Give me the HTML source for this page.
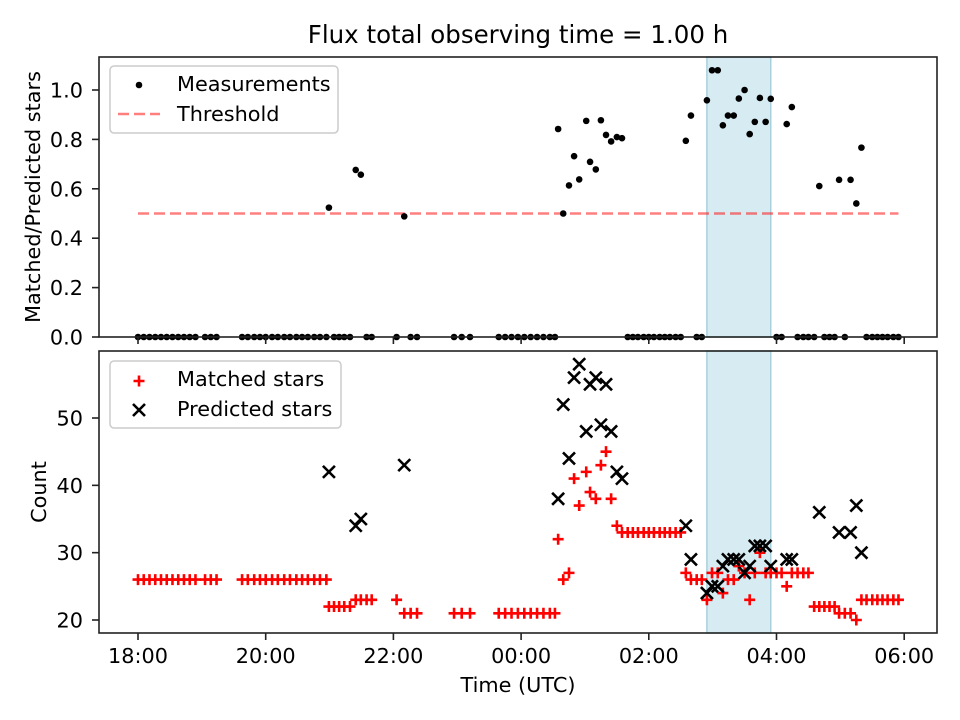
<!DOCTYPE html>
<html><head><meta charset="utf-8"><style>
html,body{margin:0;padding:0;background:#fff;width:960px;height:720px;overflow:hidden}
svg text{font-family:"DejaVu Sans","Liberation Sans",sans-serif;fill:#000}
</style></head><body>
<svg id="chart" width="960" height="720" viewBox="0 0 960 720" xmlns="http://www.w3.org/2000/svg">
<text x="518" y="43" text-anchor="middle" font-size="24.5">Flux total observing time = 1.00 h</text>
<g id="topPanel"></g>
<g id="botPanel"></g>
<text x="518" y="692" text-anchor="middle" font-size="20.8">Time (UTC)</text>
<text transform="translate(40,197) rotate(-90)" text-anchor="middle" font-size="20.8">Matched/Predicted stars</text>
<text transform="translate(46,492) rotate(-90)" text-anchor="middle" font-size="20.8">Count</text>
</svg>
<script>
// hours since 18:00 UTC
const times = [0,0.09,0.18,0.27,0.36,0.45,0.54,0.63,0.72,0.81,0.9,
1.05,1.14,1.23,
1.63,1.72,1.82,1.91,2.0,2.1,2.19,2.29,2.38,2.48,2.57,2.66,2.76,2.85,2.95,
2.99,3.07,3.15,3.23,3.32,3.41,3.49,3.58,3.66,
4.05,4.17,4.27,4.37,
4.95,5.07,5.2,
5.65,5.75,5.85,5.95,6.05,6.15,6.25,6.35,6.45,6.53,
6.58,6.66,6.75,6.83,6.91,7.02,7.08,7.17,7.25,7.33,7.41,7.5,
7.58,7.67,7.75,7.83,7.92,8.0,8.08,8.17,8.25,8.33,8.42,8.5,
8.58,8.66,8.75,8.83,8.91,8.99,9.08,9.16,9.24,9.33,9.41,9.5,9.58,9.66,9.74,9.83,9.91,
10.0,10.08,10.16,10.24,10.33,10.42,10.5,
10.59,10.67,10.75,10.83,10.91,10.98,11.07,11.16,11.25,11.33,
11.41,11.5,11.58,11.66,11.74,11.83,11.91];
const matched = [26,26,26,26,26,26,26,26,26,26,26,
26,26,26,
26,26,26,26,26,26,26,26,26,26,26,26,26,26,26,
22,22,22,22,22,23,23,23,23,
23,21,21,21,
21,21,21,
21,21,21,21,21,21,21,21,21,21,
32,26,27,41,37,42,39,38,43,45,38,34,
33,33,33,33,33,33,33,33,33,33,33,33,
27,26,26,26,23,27,27,24,26,26,28,27,23,27,30,27,27,
27,27,25,27,27,27,27,
22,22,22,22,22,21,21,21,20,23,
23,23,23,23,23,23,23];
const predicted = [null,null,null,null,null,null,null,null,null,null,null,
null,null,null,
null,null,null,null,null,null,null,null,null,null,null,null,null,null,null,
42,null,null,null,null,34,35,null,null,
null,43,null,null,
null,null,null,
null,null,null,null,null,null,null,null,null,null,
38,52,44,56,58,48,55,56,49,55,48,42,
41,null,null,null,null,null,null,null,null,null,null,null,
34,29,null,null,24,25,25,28,29,29,29,27,28,31,31,31,28,
null,null,29,29,null,null,null,
null,36,null,null,null,33,null,33,37,30,
null,null,null,null,null,null,null];
const xTickHours = [0,2,4,6,8,10,12];
const xTickLabels = ["18:00","20:00","22:00","00:00","02:00","04:00","06:00"];
const topTicks = [0,0.2,0.4,0.6,0.8,1.0];
const botTicks = [20,30,40,50];
const threshold = 0.5;
const spanStart = 8.91, spanEnd = 9.91;

const NS="http://www.w3.org/2000/svg";
function mk(parent,tag,attrs){const e=document.createElementNS(NS,tag);for(const k in attrs)e.setAttribute(k,attrs[k]);parent.appendChild(e);return e;}
const X0=99,X1=937;
const xs=h=>138+h*63.85;
const yTop=v=>337-v*247;
const yBot=v=>620-(v-20)*6.733;

function frame(g,yt,yb,name){
  const s=mk(g,'rect',{x:X0,y:yt,width:X1-X0,height:yb-yt,fill:'none',stroke:'#222','stroke-width':1.6});
  
  
}
function span(g,yt,yb){
  const r=mk(g,'rect',{x:xs(spanStart),y:yt,width:xs(spanEnd)-xs(spanStart),height:yb-yt,fill:'#add8e6','fill-opacity':0.5,stroke:'#a8d0dc','stroke-width':1.5});
  
  
}
function xticks(g,yb,labels){
  xTickHours.forEach((h,i)=>{
    const t=mk(g,'line',{x1:xs(h),x2:xs(h),y1:yb,y2:yb+7,stroke:'#222','stroke-width':1.6});
    
    
    if(labels){
      const tx=mk(g,'text',{x:xs(h),y:yb+30,'text-anchor':'middle','font-size':20.8});
      tx.textContent=xTickLabels[i];
      
      
    }
  });
}
function yticks(g,ticks,f,fmt){
  ticks.forEach(v=>{
    const t=mk(g,'line',{x1:X0-7,x2:X0,y1:f(v),y2:f(v),stroke:'#222','stroke-width':1.6});
    
    
    const tx=mk(g,'text',{x:X0-16,y:f(v)+7.5,'text-anchor':'end','font-size':20.8});
    tx.textContent=fmt(v);
    
    
  });
}
// ---- top panel
const topG=document.getElementById('topPanel');
span(topG,57,337);
const th=mk(topG,'line',{x1:xs(times[0]),x2:xs(times[times.length-1]),y1:yTop(threshold),y2:yTop(threshold),stroke:'#ff0000','stroke-opacity':0.5,'stroke-width':2.5,'stroke-dasharray':'11,5'});


times.forEach((h,i)=>{
  const r=predicted[i]?matched[i]/predicted[i]:0;
  const c=mk(topG,'circle',{cx:xs(h),cy:yTop(r),r:3.3,fill:'#000'});
  
  
});
frame(topG,57,337,'top');
xticks(topG,337,false);
yticks(topG,topTicks,yTop,v=>v.toFixed(1));
const lg1=mk(topG,'g',{});


mk(lg1,'rect',{x:110,y:66,width:228,height:67,rx:4,fill:'#fff','fill-opacity':0.8,stroke:'#ccc','stroke-width':1.5});
mk(lg1,'circle',{cx:139,cy:85,r:3.3,fill:'#000'});
let t=mk(lg1,'text',{x:177,y:91,'font-size':20.8});t.textContent='Measurements';
mk(lg1,'line',{x1:118,x2:160,y1:114,y2:114,stroke:'#ff0000','stroke-opacity':0.5,'stroke-width':2.5,'stroke-dasharray':'11,5'});
t=mk(lg1,'text',{x:177,y:121,'font-size':20.8});t.textContent='Threshold';

// ---- bottom panel
const botG=document.getElementById('botPanel');
span(botG,351,633);
times.forEach((h,i)=>{
  const x=xs(h),y=yBot(matched[i]);
  const p=mk(botG,'path',{d:`M${x-5.5},${y}H${x+5.5}M${x},${y-5.5}V${y+5.5}`,stroke:'#ff0000','stroke-width':2.6});
  
  
});
times.forEach((h,i)=>{
  if(predicted[i]==null)return;
  const x=xs(h),y=yBot(predicted[i]);
  const p=mk(botG,'path',{d:`M${x-6},${y-6}L${x+6},${y+6}M${x-6},${y+6}L${x+6},${y-6}`,stroke:'#000','stroke-width':2.6});
  
  
});
frame(botG,351,633,'bottom');
xticks(botG,633,true);
yticks(botG,botTicks,yBot,v=>String(v));
const lg2=mk(botG,'g',{});


mk(lg2,'rect',{x:110,y:361,width:231,height:67,rx:4,fill:'#fff','fill-opacity':0.8,stroke:'#ccc','stroke-width':1.5});
mk(lg2,'path',{d:'M133.5,381H144.5M139,375.5V386.5',stroke:'#ff0000','stroke-width':2.6});
t=mk(lg2,'text',{x:177,y:386,'font-size':20.8});t.textContent='Matched stars';
mk(lg2,'path',{d:'M133,404L145,416M133,416L145,404',stroke:'#000','stroke-width':2.6});
t=mk(lg2,'text',{x:177,y:416,'font-size':20.8});t.textContent='Predicted stars';
</script>
</body></html>
